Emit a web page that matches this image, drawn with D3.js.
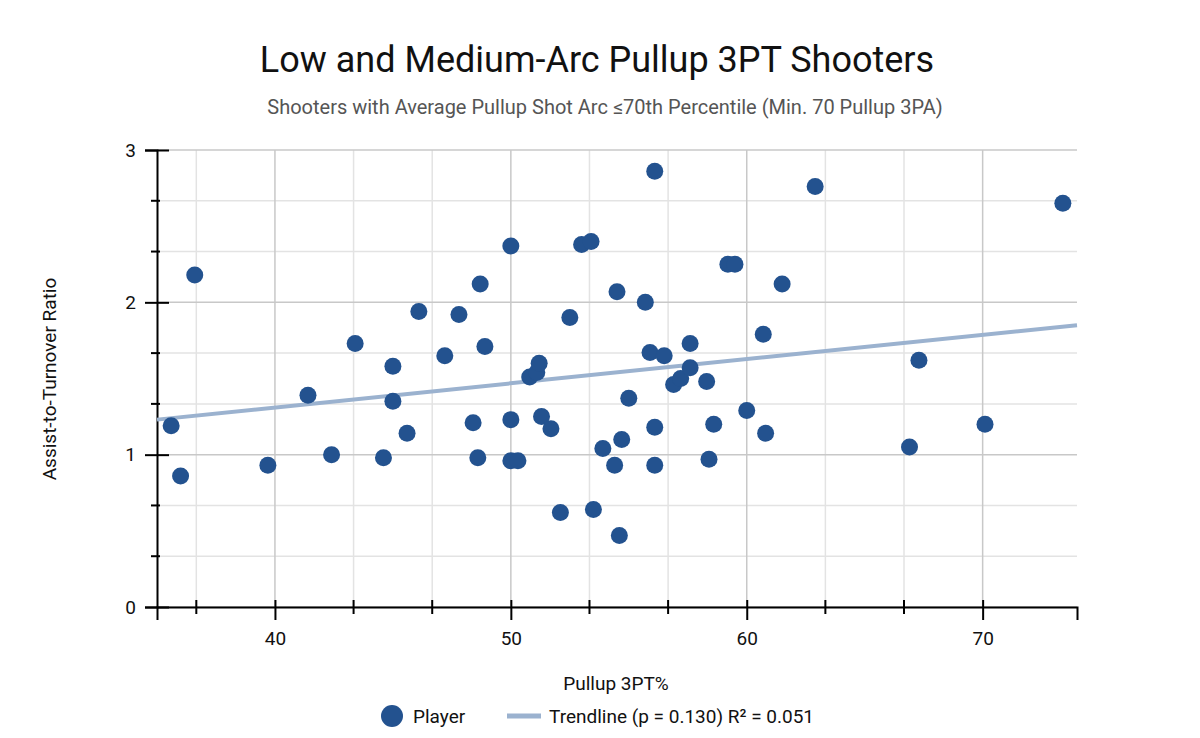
<!DOCTYPE html>
<html>
<head>
<meta charset="utf-8">
<script src="https://cdn.jsdelivr.net/npm/d3@7"></script>
<style>
body { margin: 0; background: #fff; font-family: "Liberation Sans Narrow", Roboto, "Liberation Sans", sans-serif; }
text { fill: #111; font-family: "Liberation Sans Narrow", Roboto, "Liberation Sans", sans-serif; }
</style>
</head>
<body>
<div id="chart"></div>
<script>
// pullup 3PT% and assist-to-turnover ratio
var pullup3pt = [35.6, 36.0, 36.6, 39.7, 41.4, 42.4, 43.4, 44.6, 45.0, 45.0, 45.6, 46.1, 47.2, 47.8, 48.4, 48.6,
    48.7, 48.9, 50.0, 50.0, 50.0, 50.3, 50.8, 51.1, 51.2, 51.3, 51.7, 52.1, 52.5, 53.0, 53.4, 53.5, 53.9, 54.4,
    54.5, 54.6, 54.7, 55.0, 55.7, 55.9, 56.1, 56.1, 56.1, 56.5, 56.9, 57.2, 57.6, 57.6, 58.3, 58.4, 58.6, 59.2,
    59.5, 60.0, 60.7, 60.8, 61.5, 62.9, 66.9, 67.3, 70.1, 73.4];
var astTov = [1.19, 0.86, 2.18, 0.93, 1.39, 1.00, 1.73, 0.98, 1.58, 1.35, 1.14, 1.94, 1.65, 1.92, 1.21, 0.98,
    2.12, 1.71, 2.37, 1.23, 0.96, 0.96, 1.51, 1.54, 1.60, 1.25, 1.17, 0.62, 1.90, 2.38, 2.40, 0.64, 1.04, 0.93,
    2.07, 0.47, 1.10, 1.37, 2.00, 1.67, 2.86, 1.18, 0.93, 1.65, 1.46, 1.50, 1.73, 1.57, 1.48, 0.97, 1.20, 2.25,
    2.25, 1.29, 1.79, 1.14, 2.12, 2.76, 1.05, 1.62, 1.20, 2.65];
var trendX = [35, 74];
var trendY = [1.23, 1.85];
var xTicks = [40, 50, 60, 70];
var yTicks = [0, 1, 2, 3];

var svgWidth = 1200, svgHeight = 738;
var margin = {top: 150, right: 123, bottom: 131, left: 157};
var width = svgWidth - margin.left - margin.right;
var height = svgHeight - margin.top - margin.bottom;

var svg = d3.select("#chart").append("svg")
    .attr("width", svgWidth)
    .attr("height", svgHeight);

var g = svg.append("g")
    .attr("transform", `translate(${margin.left}, ${margin.top})`);

var x = d3.scaleLinear().domain([35, 74]).range([0, width]);
var y = d3.scaleLinear().domain([0, 3]).range([height, 0]);

var xMinor = d3.range(1, 12).map(i => 10 / 3 * i + 30).filter(v => v > 35 && v < 74 && Math.abs(v % 10) > 0.01);
var yMinor = d3.range(1, 9).map(i => i / 3).filter(v => Math.abs(v - Math.round(v)) > 0.01);

// grid
g.selectAll(".vminor").data(xMinor).enter().append("line")
    .attr("x1", d => x(d)).attr("x2", d => x(d)).attr("y1", 0).attr("y2", height)
    .attr("stroke", "#e3e3e3").attr("stroke-width", 1.5);
g.selectAll(".hminor").data(yMinor).enter().append("line")
    .attr("x1", 0).attr("x2", width).attr("y1", d => y(d)).attr("y2", d => y(d))
    .attr("stroke", "#e3e3e3").attr("stroke-width", 1.5);
g.selectAll(".vmajor").data(xTicks).enter().append("line")
    .attr("x1", d => x(d)).attr("x2", d => x(d)).attr("y1", 0).attr("y2", height)
    .attr("stroke", "#c8c8c8").attr("stroke-width", 1.5);
g.selectAll(".hmajor").data(yTicks).enter().append("line")
    .attr("x1", 0).attr("x2", width).attr("y1", d => y(d)).attr("y2", d => y(d))
    .attr("stroke", "#c8c8c8").attr("stroke-width", 1.5);

// axes
var xAxis = g.append("g").attr("transform", `translate(0,${height})`)
    .call(d3.axisBottom(x).tickValues(xTicks).tickSize(13).tickPadding(12).tickFormat(d3.format("d")));
var yAxis = g.append("g")
    .call(d3.axisLeft(y).tickValues(yTicks).tickSize(12).tickPadding(9).tickFormat(d3.format("d")));
[xAxis, yAxis].forEach(a => {
    a.select(".domain").attr("stroke", "#000").attr("stroke-width", 2);
    a.selectAll(".tick line").attr("stroke", "#000").attr("stroke-width", 2);
    a.selectAll("text").style("font-size", "19px").attr("font-family", null).attr("fill", "#111");
});
xAxis.selectAll(".tick line").attr("y1", -7);
yAxis.selectAll(".tick line").attr("x1", 12);
g.selectAll(".xmt").data(xMinor).enter().append("line")
    .attr("x1", d => x(d)).attr("x2", d => x(d)).attr("y1", height - 7).attr("y2", height + 7)
    .attr("stroke", "#000").attr("stroke-width", 2);
g.selectAll(".ymt").data(yMinor).enter().append("line")
    .attr("x1", -6).attr("x2", 3).attr("y1", d => y(d)).attr("y2", d => y(d))
    .attr("stroke", "#000").attr("stroke-width", 2);

// trendline
g.append("line")
    .attr("x1", x(trendX[0])).attr("y1", y(trendY[0]))
    .attr("x2", x(trendX[1])).attr("y2", y(trendY[1]))
    .attr("stroke", "#9bb2cf").attr("stroke-width", 4);

// points
g.selectAll("circle").data(pullup3pt).enter().append("circle")
    .attr("cx", d => x(d))
    .attr("cy", (d, i) => y(astTov[i]))
    .attr("r", 8.5)
    .attr("fill", "#23528f");

// titles
svg.append("text").attr("x", 597).attr("y", 72).attr("text-anchor", "middle")
    .style("font-size", "36px").text("Low and Medium-Arc Pullup 3PT Shooters");
svg.append("text").attr("x", 605).attr("y", 114).attr("text-anchor", "middle")
    .style("font-size", "20px").style("fill", "#555")
    .text("Shooters with Average Pullup Shot Arc ≤70th Percentile (Min. 70 Pullup 3PA)");
svg.append("text").attr("x", 616).attr("y", 690).attr("text-anchor", "middle")
    .style("font-size", "19px").text("Pullup 3PT%");
svg.append("text").attr("transform", "translate(56, 379) rotate(-90)").attr("text-anchor", "middle")
    .style("font-size", "19px").text("Assist-to-Turnover Ratio");

// legend
var leg = svg.append("g").attr("transform", "translate(0, 716)");
leg.append("circle").attr("cx", 392).attr("cy", 0).attr("r", 11).attr("fill", "#23528f");
leg.append("text").attr("x", 413).attr("y", 7).style("font-size", "19px").text("Player");
leg.append("line").attr("x1", 507).attr("x2", 541).attr("y1", 0).attr("y2", 0)
    .attr("stroke", "#9bb2cf").attr("stroke-width", 5);
leg.append("text").attr("x", 549).attr("y", 7).style("font-size", "19px")
    .text("Trendline (p = 0.130) R² = 0.051");
</script>
</body>
</html>
